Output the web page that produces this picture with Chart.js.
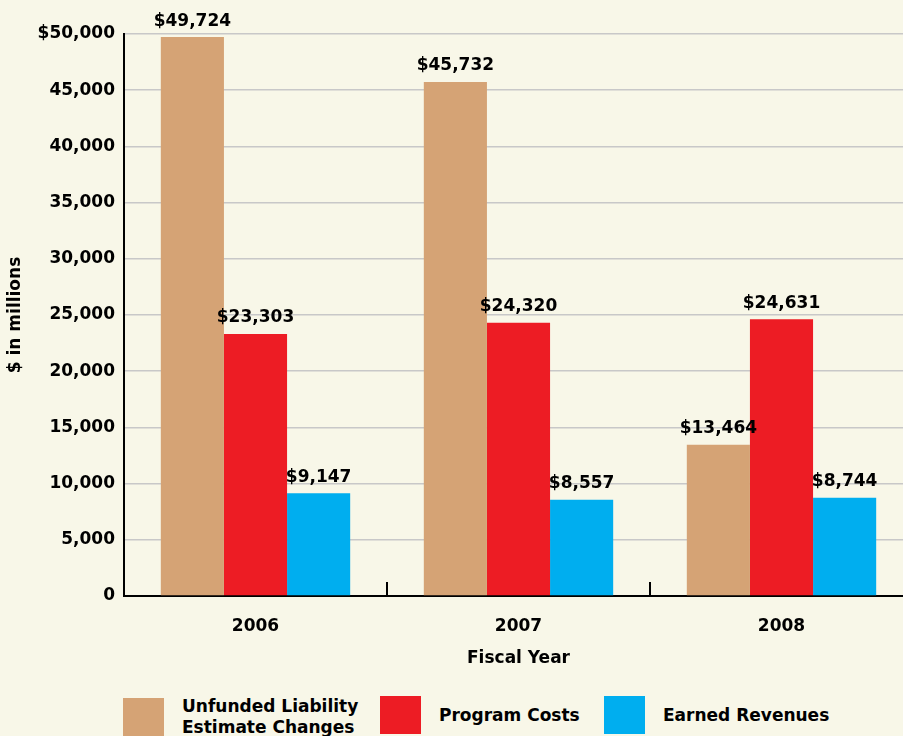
<!DOCTYPE html>
<html>
<head>
<meta charset="utf-8">
<script src="https://cdn.jsdelivr.net/npm/chart.js@4"></script>
<style>
  html, body { margin: 0; padding: 0; background: #f8f7e8; overflow: hidden; }
  body { width: 903px; height: 736px; position: relative; font-family: "DejaVu Sans", sans-serif; font-weight: bold; }
  #wrap { position: absolute; left: 0; top: 0; width: 913px; height: 680px; }
  .key { position: absolute; top: 696px; display: flex; align-items: center; font-size: 17px; line-height: 21px; color: #000; }
  .key span.sw { display: inline-block; width: 41px; height: 38px; margin-right: 18px; }
</style>
</head>
<body>
<div id="wrap"><canvas id="fundChart"></canvas></div>
<div class="key" style="left:123px;"><span class="sw" style="background:#d5a375"></span><span>Unfunded Liability<br>Estimate Changes</span></div>
<div class="key" style="left:380px;"><span class="sw" style="background:#ed1c24"></span><span>Program Costs</span></div>
<div class="key" style="left:604px;"><span class="sw" style="background:#00aeef"></span><span>Earned Revenues</span></div>
<script>
'use strict';

const years = ['2006', '2007', '2008'];
const unfundedLiability = [49724, 45732, 13464];
const programCosts = [23303, 24320, 24631];
const earnedRevenues = [9147, 8557, 8744];
const yTicks = [0, 5000, 10000, 15000, 20000, 25000, 30000, 35000, 40000, 45000, 50000];

const boldFont = { family: 'DejaVu Sans', weight: 'bold', size: 17 };

// value labels above bars
const valueLabels = {
  id: 'valueLabels',
  afterDatasetsDraw(chart) {
    const ctx = chart.ctx;
    ctx.save();
    ctx.font = 'bold 17px "DejaVu Sans"';
    ctx.fillStyle = '#000';
    ctx.textAlign = 'center';
    ctx.textBaseline = 'middle';
    chart.data.datasets.forEach((ds, i) => {
      chart.getDatasetMeta(i).data.forEach((bar, j) => {
        ctx.fillText('$' + ds.data[j].toLocaleString('en-US'), bar.x, bar.y - 16);
      });
    });
    ctx.restore();
  }
};

// small upward ticks between categories
const categoryTicks = {
  id: 'categoryTicks',
  afterDraw(chart) {
    const x = chart.scales.x, ctx = chart.ctx, bottom = chart.chartArea.bottom;
    ctx.save();
    ctx.strokeStyle = '#000';
    ctx.lineWidth = 2;
    for (let i = 0; i < years.length; i++) {
      const px = (x.getPixelForValue(i) + x.getPixelForValue(i + 1)) / 2;
      ctx.beginPath();
      ctx.moveTo(px, bottom - 14);
      ctx.lineTo(px, bottom);
      ctx.stroke();
    }
    ctx.restore();
  }
};

new Chart(document.getElementById('fundChart'), {
  type: 'bar',
  data: {
    labels: years,
    datasets: [
      { label: 'Unfunded Liability Estimate Changes', data: unfundedLiability, backgroundColor: '#d5a375' },
      { label: 'Program Costs', data: programCosts, backgroundColor: '#ed1c24' },
      { label: 'Earned Revenues', data: earnedRevenues, backgroundColor: '#00aeef' }
    ]
  },
  options: {
    responsive: true,
    maintainAspectRatio: false,
    animation: false,
    layout: { padding: { top: 34, bottom: 11, left: 0, right: 0 } },
    datasets: { bar: { categoryPercentage: 0.72, barPercentage: 1 } },
    plugins: {
      legend: { display: false },
      tooltip: { enabled: false }
    },
    scales: {
      x: {
        grid: { display: false },
        border: { display: true, color: '#000', width: 2 },
        ticks: { color: '#000', font: boldFont, padding: 12 },
        title: { display: true, text: 'Fiscal Year', color: '#000', font: boldFont, padding: 0 },
        afterFit: s => { s.height = 73; }
      },
      y: {
        min: 0,
        max: 50000,
        afterBuildTicks: s => { s.ticks = yTicks.map(v => ({ value: v })); },
        grid: { color: '#c8c8c8', lineWidth: 1.5, drawTicks: false },
        border: { display: true, color: '#000', width: 2 },
        ticks: {
          color: '#000',
          font: boldFont,
          padding: 9,
          callback: v => (v === 50000 ? '$' : '') + v.toLocaleString('en-US')
        },
        title: { display: true, text: '$ in millions', color: '#000', font: boldFont, padding: 5 },
        afterFit: s => { s.width = 124; }
      }
    }
  },
  plugins: [valueLabels, categoryTicks]
});
</script>
</body>
</html>
